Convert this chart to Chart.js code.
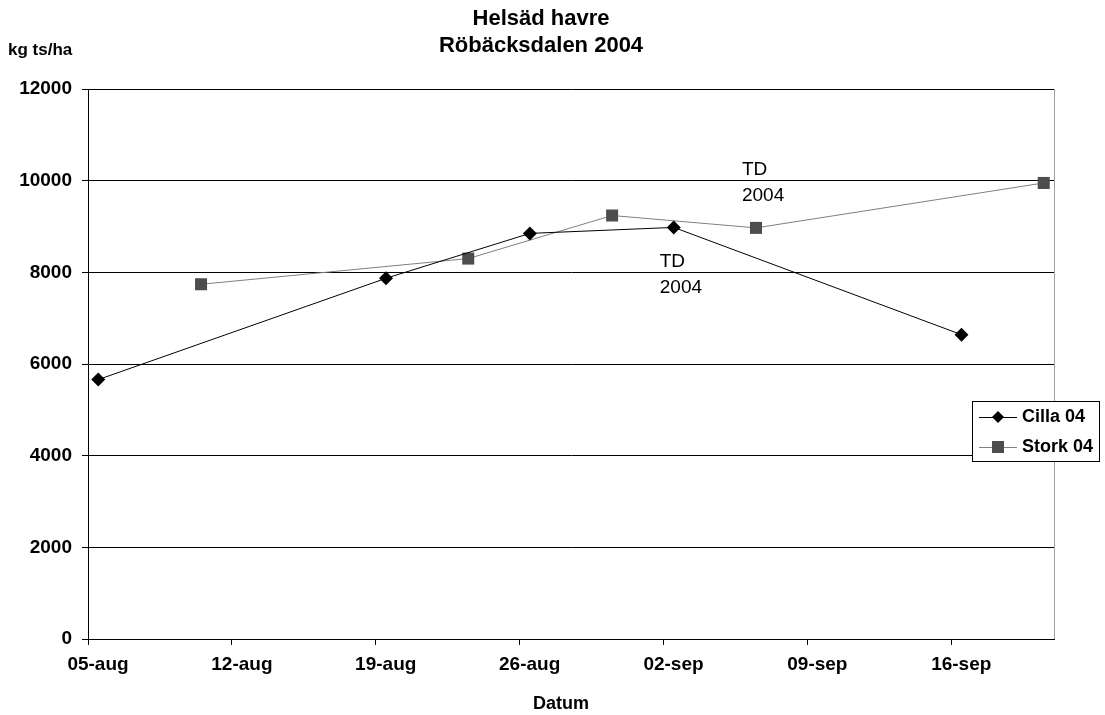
<!DOCTYPE html>
<html>
<head>
<meta charset="utf-8">
<script src="https://cdn.jsdelivr.net/npm/chart.js@4/dist/chart.umd.min.js"></script>
<style>
  html, body { margin: 0; padding: 0; background: #fff; }
  #wrap { width: 1105px; height: 715px; }
</style>
</head>
<body>
<div id="wrap"><canvas id="c" width="1105" height="715"></canvas></div>
<script>
const axisStart = "2004-08-05";
const axisDays = 47;
const monthNames = ["jan", "feb", "mar", "apr", "maj", "jun", "jul", "aug", "sep", "okt", "nov", "dec"];

const cillaDates = ["2004-08-05", "2004-08-19", "2004-08-26", "2004-09-02", "2004-09-16"];
const cillaValues = [5660, 7870, 8850, 8980, 6640];

const storkDates = ["2004-08-10", "2004-08-23", "2004-08-30", "2004-09-06", "2004-09-20"];
const storkValues = [7740, 8300, 9240, 8970, 9950];

// "TD 2004" notes hung on single points
const notes = [
  { dataset: 1, index: 3, lines: ["TD", "2004"], above: true },
  { dataset: 0, index: 3, lines: ["TD", "2004"], above: false },
];

const FONT = "'Liberation Sans', Arial, sans-serif";
const DAY = 24 * 3600 * 1000;
const t0 = Date.parse(axisStart + "T00:00:00Z");

// excel date axis: a point sits in the middle of its day slot
function toDay(s) {
  return (Date.parse(s + "T00:00:00Z") - t0) / DAY + 0.5;
}
function fmtDay(v) {
  const d = new Date(t0 + v * DAY);
  return String(d.getUTCDate()).padStart(2, "0") + "-" + monthNames[d.getUTCMonth()];
}
function points(dates, values) {
  return dates.map((d, i) => ({ x: toDay(d), y: values[i] }));
}

const extras = {
  id: "extras",
  afterDraw(chart) {
    const ctx = chart.ctx;
    const a = chart.chartArea;
    ctx.save();
    // right edge of plot
    ctx.strokeStyle = "#a0a0a0";
    ctx.lineWidth = 1;
    ctx.beginPath();
    ctx.moveTo(a.right + 0.5, a.top);
    ctx.lineTo(a.right + 0.5, a.bottom);
    ctx.stroke();

    ctx.fillStyle = "#000";
    ctx.textBaseline = "middle";
    ctx.textAlign = "center";
    ctx.font = "bold 22px " + FONT;
    ctx.fillText("Helsäd havre", 541, 19);
    ctx.fillText("Röbäcksdalen 2004", 541, 46);

    ctx.textAlign = "left";
    ctx.font = "bold 17px " + FONT;
    ctx.fillText("kg ts/ha", 8, 50);

    ctx.textAlign = "center";
    ctx.font = "bold 18px " + FONT;
    ctx.fillText("Datum", 561, 704);

    // notes
    ctx.font = "19px " + FONT;
    ctx.textAlign = "left";
    notes.forEach((n) => {
      const el = chart.getDatasetMeta(n.dataset).data[n.index];
      const x = el.x - 14;
      const y0 = n.above ? el.y - 58 : el.y + 34;
      n.lines.forEach((s, i) => ctx.fillText(s, x, y0 + i * 26));
    });

    // legend box overlapping the plot
    const lx = 972, ly = 401;
    ctx.fillStyle = "#fff";
    ctx.fillRect(lx, ly, 128, 60);
    ctx.strokeStyle = "#000";
    ctx.strokeRect(lx + 0.5, ly + 0.5, 127, 60);
    chart.data.datasets.forEach((ds, i) => {
      const cy = ly + 16 + i * 30;
      ctx.strokeStyle = ds.borderColor;
      ctx.lineWidth = 1;
      ctx.beginPath();
      ctx.moveTo(lx + 7, cy + 0.5);
      ctx.lineTo(lx + 45, cy + 0.5);
      ctx.stroke();
      ctx.fillStyle = ds.pointBackgroundColor;
      const cx = lx + 26;
      if (ds.pointStyle === "rectRot") {
        ctx.beginPath();
        ctx.moveTo(cx, cy - 6);
        ctx.lineTo(cx + 6, cy);
        ctx.lineTo(cx, cy + 6);
        ctx.lineTo(cx - 6, cy);
        ctx.closePath();
        ctx.fill();
      } else {
        ctx.fillRect(cx - 6, cy - 6, 12, 12);
      }
      ctx.fillStyle = "#000";
      ctx.font = "bold 18px " + FONT;
      ctx.textAlign = "left";
      ctx.fillText(ds.label, lx + 50, cy);
    });
    ctx.restore();
  },
};

const config = {
  type: "line",
  data: {
    datasets: [
      {
        label: "Cilla 04",
        data: points(cillaDates, cillaValues),
        borderColor: "#000000",
        borderWidth: 1,
        pointStyle: "rectRot",
        pointRadius: 7,
        pointBackgroundColor: "#000000",
        pointBorderWidth: 0,
        tension: 0,
      },
      {
        label: "Stork 04",
        data: points(storkDates, storkValues),
        borderColor: "#808080",
        borderWidth: 1,
        pointStyle: "rect",
        pointRadius: 8.5,
        pointBackgroundColor: "#4d4d4d",
        pointBorderWidth: 0,
        tension: 0,
      },
    ],
  },
  options: {
    responsive: false,
    animation: false,
    events: [],
    layout: {
      padding: { top: 89, right: 51, bottom: 0, left: 0 },
    },
    scales: {
      x: {
        type: "linear",
        min: 0,
        max: axisDays,
        afterFit: (s) => { s.height = 76; },
        afterBuildTicks: (s) => {
          s.ticks = s.ticks.filter((t) => t.value % 7 === 0 && t.value < axisDays);
        },
        ticks: {
          stepSize: 7,
          autoSkip: false,
          maxRotation: 0,
          labelOffset: 10,
          padding: 8,
          color: "#000",
          font: { family: FONT, size: 19, weight: "bold" },
          callback: (v) => fmtDay(v),
        },
        grid: {
          drawOnChartArea: false,
          tickLength: 6,
          color: "#000",
        },
        border: { color: "#000", width: 1 },
      },
      y: {
        min: 0,
        max: 12000,
        afterFit: (s) => { s.width = 88; },
        ticks: {
          stepSize: 2000,
          padding: 10,
          color: "#000",
          font: { family: FONT, size: 19, weight: "bold" },
          callback: (v) => String(v),
        },
        grid: {
          color: "#000",
          tickLength: 6,
        },
        border: { color: "#000", width: 1 },
      },
    },
    plugins: {
      legend: { display: false },
      title: { display: false },
      tooltip: { enabled: false },
    },
  },
  plugins: [extras],
};

new Chart(document.getElementById("c"), config);
</script>
</body>
</html>
